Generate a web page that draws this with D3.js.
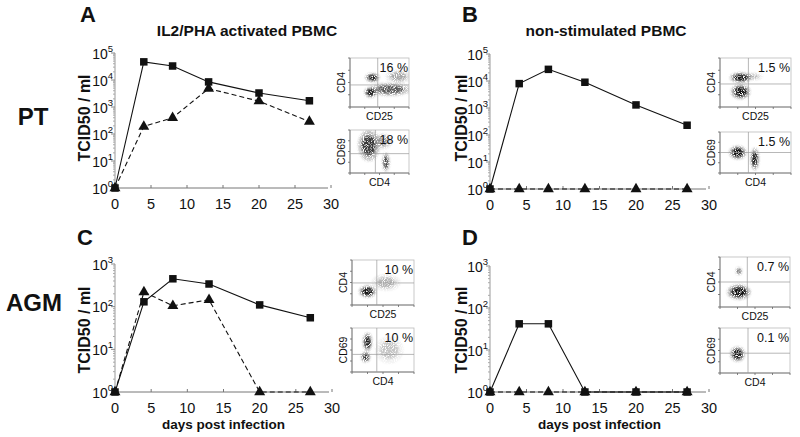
<!DOCTYPE html>
<html><head><meta charset="utf-8">
<script src="https://cdn.jsdelivr.net/npm/d3@7/dist/d3.min.js"></script>
<style>
body{margin:0;background:#fff}
text{font-family:"Liberation Sans",Arial,Helvetica,sans-serif;fill:#111}
</style></head>
<body><svg id="c" width="800" height="437"></svg>
<script>
// ---- data ----
const days = [0, 4, 8, 13, 20, 27];
const xTicks = [0, 5, 10, 15, 20, 25, 30];
const A_square = [1, 47000, 33000, 8500, 3300, 1700];
const A_triangle = [1, 190, 400, 4800, 1650, 290];
const B_square = [1, 8000, 27000, 9000, 1300, 230];
const B_triangle = [1, 1, 1, 1, 1, 1];
const C_square = [1, 130, 450, 340, 110, 55];
const C_triangle = [1, 220, 105, 145, 1, 1];
const D_square = [1, 42, 42, 1, 1, 1];
const D_triangle = [1, 1, 1, 1, 1, 1];
const panelLetters = ["A", "B", "C", "D"];
const columnTitles = ["IL2/PHA activated PBMC", "non-stimulated PBMC"];
const rowLabels = ["PT", "AGM"];
const yLabel = "TCID50 / ml";
const xLabel = "days post infection";
// flow cytometry insets: percentage in upper-right quadrant
const flowPct = [["16 %", "18 %"], ["1.5 %", "1.5 %"], ["10 %", "10 %"], ["0.7 %", "0.1 %"]];
const flowAxes = [["CD4", "CD25"], ["CD69", "CD4"]];
// event clusters (normalized 0-1 log-scale coords, spread, density)
const flowA_top = [[0.38,0.60,0.08,0.06,0.9],[0.35,0.30,0.07,0.07,0.9],[0.68,0.36,0.24,0.09,0.6],[0.82,0.62,0.14,0.09,0.3]];
const flowA_bot = [[0.32,0.64,0.12,0.24,0.75],[0.56,0.74,0.10,0.12,0.35],[0.61,0.25,0.04,0.15,0.7]];
const flowB_top = [[0.29,0.60,0.10,0.07,0.95],[0.29,0.31,0.09,0.10,0.95],[0.45,0.62,0.10,0.05,0.25]];
const flowB_bot = [[0.25,0.50,0.08,0.11,0.95],[0.49,0.34,0.04,0.18,0.9]];
const flowC_top = [[0.25,0.30,0.09,0.09,0.95],[0.55,0.50,0.15,0.12,0.25]];
const flowC_bot = [[0.25,0.68,0.05,0.14,0.9],[0.22,0.34,0.05,0.08,0.8],[0.60,0.50,0.15,0.2,0.2]];
const flowD_top = [[0.27,0.30,0.11,0.10,0.95],[0.27,0.72,0.03,0.05,0.6]];
const flowD_bot = [[0.25,0.42,0.07,0.11,0.95]];

const svg = d3.select("#c");
const defs = svg.append("defs");
const f = defs.append("filter").attr("id","grain").attr("x","-50%").attr("y","-50%").attr("width","200%").attr("height","200%");
f.append("feGaussianBlur").attr("in","SourceGraphic").attr("stdDeviation", 1.2).attr("result","b");
f.append("feTurbulence").attr("type","fractalNoise").attr("baseFrequency", 0.9).attr("numOctaves", 1).attr("seed", 4).attr("result","n");
f.append("feColorMatrix").attr("in","n").attr("type","matrix")
  .attr("values","0 0 0 0 0  0 0 0 0 0  0 0 0 0 0  5 0 0 0 -1.6").attr("result","m");
f.append("feComposite").attr("in","b").attr("in2","m").attr("operator","in");

function panel(o) {
  const g = svg.append("g");
  const x = d3.scaleLinear().domain([0, 30]).range([o.x0, o.x1]);
  const y = d3.scaleLog().domain([1, Math.pow(10, o.maxExp)]).range([o.yBot, o.yTop]);
  // x axis
  g.append("line").attr("x1", x(0)).attr("x2", x(30) - 3).attr("y1", o.yBot).attr("y2", o.yBot)
    .attr("stroke", "#777").attr("stroke-width", 1);
  xTicks.forEach(t => {
    g.append("line").attr("x1", x(t)).attr("x2", x(t)).attr("y1", o.yBot).attr("y2", o.yBot - 3).attr("stroke", "#777");
    g.append("text").attr("x", x(t)).attr("y", o.yBot + 21).attr("text-anchor", "middle")
      .attr("font-size", 14.5).text(t);
  });
  // y axis
  g.append("line").attr("x1", o.x0).attr("x2", o.x0).attr("y1", o.yBot).attr("y2", o.yTop)
    .attr("stroke", "#999").attr("stroke-width", 1);
  for (let e = 0; e <= o.maxExp; e++) {
    const v = Math.pow(10, e);
    g.append("line").attr("x1", o.x0 - 4).attr("x2", o.x0).attr("y1", y(v)).attr("y2", y(v)).attr("stroke", "#888");
    if (e < o.maxExp) for (let m = 2; m < 10; m++) {
      g.append("line").attr("x1", o.x0 - 2).attr("x2", o.x0).attr("y1", y(v * m)).attr("y2", y(v * m)).attr("stroke", "#aaa");
    }
    const t = g.append("text").attr("x", o.x0 - 2).attr("y", y(v) + 5.5).attr("text-anchor", "end").attr("font-size", 14);
    t.append("tspan").text("10");
    t.append("tspan").attr("dy", -6.5).attr("font-size", 9.5).text(e);
  }
  // y label
  g.append("text").attr("transform", `translate(${o.ylx},${o.yly}) rotate(-90)`).attr("text-anchor", "middle")
    .attr("font-size", 16).attr("font-weight", "bold").text(yLabel);
  // lines
  const pts = vals => days.map((d, i) => [x(d), y(vals[i])]);
  const line = d3.line();
  g.append("path").attr("d", line(pts(o.tri))).attr("fill", "none").attr("stroke", "#111")
    .attr("stroke-width", 1.1).attr("stroke-dasharray", "5,3");
  g.append("path").attr("d", line(pts(o.sq))).attr("fill", "none").attr("stroke", "#111").attr("stroke-width", 1.1);
  const tri = d3.symbol().type(d3.symbolTriangle).size(52);
  pts(o.tri).forEach(p => g.append("path").attr("d", tri()).attr("transform", `translate(${p[0]},${p[1]})`).attr("fill", "#111"));
  pts(o.sq).forEach(p => g.append("rect").attr("x", p[0] - 3.75).attr("y", p[1] - 3.75).attr("width", 7.5).attr("height", 7.5).attr("fill", "#111"));
  // letter & title
  g.append("text").attr("x", o.lx).attr("y", o.ly).attr("font-size", 22).attr("font-weight", "bold").text(o.letter);
  if (o.title) g.append("text").attr("x", o.tx).attr("y", o.ty).attr("text-anchor", "middle")
    .attr("font-size", 15.5).attr("font-weight", "bold").text(o.title);
  if (o.xlab) g.append("text").attr("x", (o.x0 + o.x1) / 2).attr("y", o.yBot + 37).attr("text-anchor", "middle")
    .attr("font-size", 13.5).attr("font-weight", "bold").text(xLabel);
}

let clipId = 0;
function flow(b, clusters, gx, gy, pct, axes) {
  const g = svg.append("g");
  const fx = d3.scaleLinear().domain([0, 1]).range([b[0], b[1]]);
  const fy = d3.scaleLinear().domain([0, 1]).range([b[3], b[2]]);
  const id = "cl" + (clipId++);
  defs.append("clipPath").attr("id", id).append("rect").attr("x", b[0]).attr("y", b[2]).attr("width", b[1] - b[0]).attr("height", b[3] - b[2]);
  const cg = g.append("g").attr("clip-path", `url(#${id})`).append("g").attr("filter", "url(#grain)");
  clusters.forEach(c => {
    cg.append("ellipse").attr("cx", fx(c[0])).attr("cy", fy(c[1]))
      .attr("rx", (b[1] - b[0]) * c[2] * 1.5).attr("ry", (b[3] - b[2]) * c[3] * 1.5)
      .attr("fill", "#333").attr("opacity", c[4] * 0.4);
    cg.append("ellipse").attr("cx", fx(c[0])).attr("cy", fy(c[1]))
      .attr("rx", (b[1] - b[0]) * c[2]).attr("ry", (b[3] - b[2]) * c[3])
      .attr("fill", "#111").attr("opacity", c[4]);
  });
  g.append("rect").attr("x", b[0]).attr("y", b[2]).attr("width", b[1] - b[0]).attr("height", b[3] - b[2])
    .attr("fill", "none").attr("stroke", "#bbb").attr("stroke-width", 0.8);
  g.append("line").attr("x1", b[0]).attr("x2", b[0]).attr("y1", b[2]).attr("y2", b[3]).attr("stroke", "#666").attr("stroke-width", 0.8);
  g.append("line").attr("x1", b[0]).attr("x2", b[1]).attr("y1", b[3]).attr("y2", b[3]).attr("stroke", "#666").attr("stroke-width", 0.8);
  for (let k = 0; k <= 4; k++) {
    g.append("line").attr("x1", fx(k / 4)).attr("x2", fx(k / 4)).attr("y1", b[3]).attr("y2", b[3] + 2).attr("stroke", "#666").attr("stroke-width", 0.8);
    g.append("line").attr("x1", b[0]).attr("x2", b[0] - 2).attr("y1", fy(k / 4)).attr("y2", fy(k / 4)).attr("stroke", "#666").attr("stroke-width", 0.8);
  }
  g.append("line").attr("x1", fx(gx)).attr("x2", fx(gx)).attr("y1", b[2]).attr("y2", b[3]).attr("stroke", "#999").attr("stroke-width", 0.7);
  g.append("line").attr("x1", b[0]).attr("x2", b[1]).attr("y1", fy(gy)).attr("y2", fy(gy)).attr("stroke", "#999").attr("stroke-width", 0.7);
  g.append("text").attr("x", b[1] - 1).attr("y", b[2] + 14).attr("text-anchor", "end").attr("font-size", 12.5).text(pct);
  g.append("text").attr("x", (b[0] + b[1]) / 2).attr("y", b[3] + 13).attr("text-anchor", "middle").attr("font-size", 10.5).text(axes[1]);
  g.append("text").attr("transform", `translate(${b[0] - 5},${(b[2] + b[3]) / 2}) rotate(-90)`).attr("text-anchor", "middle")
    .attr("font-size", 10.5).text(axes[0]);
}

panel({x0:115, x1:331, yTop:53, yBot:188, maxExp:5, sq:A_square, tri:A_triangle, letter:panelLetters[0], lx:80, ly:22,
  title:columnTitles[0], tx:247, ty:36, ylx:90, yly:118});
panel({x0:490, x1:709, yTop:54, yBot:189, maxExp:5, sq:B_square, tri:B_triangle, letter:panelLetters[1], lx:462, ly:22,
  title:columnTitles[1], tx:606, ty:36, ylx:467, yly:118});
panel({x0:115, x1:332, yTop:264, yBot:392, maxExp:3, sq:C_square, tri:C_triangle, letter:panelLetters[2], lx:77, ly:245,
  ylx:90, yly:330, xlab:true});
panel({x0:490, x1:709, yTop:266, yBot:392, maxExp:3, sq:D_square, tri:D_triangle, letter:panelLetters[3], lx:462, ly:245,
  ylx:467, yly:330, xlab:true});

svg.append("text").attr("x", 33).attr("y", 125).attr("text-anchor", "middle").attr("font-size", 24).attr("font-weight", "bold").text(rowLabels[0]);
svg.append("text").attr("x", 34).attr("y", 311).attr("text-anchor", "middle").attr("font-size", 24).attr("font-weight", "bold").text(rowLabels[1]);

flow([350, 409, 58, 107], flowA_top, 0.47, 0.45, flowPct[0][0], flowAxes[0]);
flow([350, 409, 130, 173], flowA_bot, 0.43, 0.45, flowPct[0][1], flowAxes[1]);
flow([720, 791, 58, 107], flowB_top, 0.40, 0.47, flowPct[1][0], flowAxes[0]);
flow([720, 791, 132, 173], flowB_bot, 0.40, 0.50, flowPct[1][1], flowAxes[1]);
flow([352, 414, 260, 305], flowC_top, 0.40, 0.49, flowPct[2][0], flowAxes[0]);
flow([352, 414, 328, 372], flowC_bot, 0.40, 0.40, flowPct[2][1], flowAxes[1]);
flow([720, 790, 257, 307], flowD_top, 0.39, 0.50, flowPct[3][0], flowAxes[0]);
flow([720, 790, 328, 373], flowD_bot, 0.40, 0.44, flowPct[3][1], flowAxes[1]);
</script></body></html>
